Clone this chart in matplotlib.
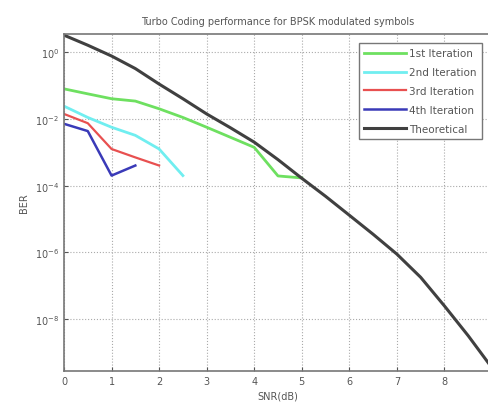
import numpy as np
import matplotlib
matplotlib.use("Agg")
import matplotlib.pyplot as plt
from matplotlib.ticker import FixedLocator, NullLocator

# SNR points (dB)
snr_theory = [0, 0.5, 1, 1.5, 2, 2.5, 3, 3.5, 4, 4.5, 5, 5.5, 6, 6.5, 7, 7.5, 8, 8.5, 9]
ber_theory = [3.2, 1.6, 0.76, 0.32, 0.11, 4.0e-2, 1.4e-2, 5.4e-3, 2.0e-3, 6.0e-4,
              1.66e-4, 4.8e-5, 1.3e-5, 3.5e-6, 8.9e-7, 1.8e-7, 2.5e-8, 3.2e-9, 3.5e-10]

snr_it1 = [0, 0.5, 1, 1.5, 2, 2.5, 3, 3.5, 4, 4.5, 5]
ber_it1 = [7.9e-2, 5.6e-2, 4.0e-2, 3.4e-2, 2.0e-2, 1.1e-2, 5.6e-3, 2.8e-3, 1.4e-3, 1.95e-4, 1.7e-4]

snr_it2 = [0, 0.5, 1, 1.5, 2, 2.5]
ber_it2 = [2.4e-2, 1.1e-2, 5.6e-3, 3.2e-3, 1.25e-3, 2.0e-4]

snr_it3 = [0, 0.5, 1, 1.5, 2]
ber_it3 = [1.4e-2, 7.4e-3, 1.25e-3, 7.0e-4, 4.0e-4]

snr_it4 = [0, 0.5, 1, 1.5]
ber_it4 = [7.1e-3, 4.3e-3, 2.0e-4, 4.0e-4]

labels = ['1st Iteration', '2nd Iteration', '3rd Iteration', '4th Iteration', 'Theoretical']

txt = '#555555'
fig = plt.figure(figsize=(4.89, 4.06), dpi=100)
ax = fig.add_axes([64 / 489, 34 / 406, 428 / 489, 337 / 406])

ax.semilogy(snr_it1, ber_it1, color='#6ee060', lw=2.0, label=labels[0])
ax.semilogy(snr_it2, ber_it2, color='#70eef0', lw=2.0, label=labels[1])
ax.semilogy(snr_it3, ber_it3, color='#e85050', lw=1.6, label=labels[2])
ax.semilogy(snr_it4, ber_it4, color='#3a3ab8', lw=1.8, label=labels[3])
ax.semilogy(snr_theory, ber_theory, color='#404040', lw=2.2, label=labels[4])

ax.set_xlim(0, 9)
ax.set_ylim(10 ** -9.55, 10 ** 0.54)
ax.set_xticks(range(0, 10))
ax.yaxis.set_major_locator(FixedLocator([1e0, 1e-2, 1e-4, 1e-6, 1e-8]))
ax.yaxis.set_minor_locator(NullLocator())
ax.set_yticklabels(['$10^{0}$', '$10^{-2}$', '$10^{-4}$', '$10^{-6}$', '$10^{-8}$'])

ax.grid(True, which='major', linestyle=':', color='#aaaaaa', lw=0.8)
ax.tick_params(direction='in', labelsize=7, colors=txt, length=3)
for sp in ax.spines.values():
    sp.set_color('#777777')
    sp.set_linewidth(1.2)

ax.set_title('Turbo Coding performance for BPSK modulated symbols', fontsize=7, color=txt, pad=7)
ax.set_xlabel('SNR(dB)', fontsize=7, color=txt, labelpad=3)
ax.set_ylabel('BER', fontsize=7, color=txt, labelpad=4)

leg = ax.legend(loc='upper right', bbox_to_anchor=(487 / 489, 1 - 39 / 406),
                bbox_transform=fig.transFigure, fontsize=7.5, handlelength=4.0,
                handletextpad=0.3, labelspacing=0.85, borderpad=0.5,
                fancybox=False, framealpha=1, edgecolor='#777777')
for t in leg.get_texts():
    t.set_color(txt)

fig.savefig('out.png', dpi=100)
